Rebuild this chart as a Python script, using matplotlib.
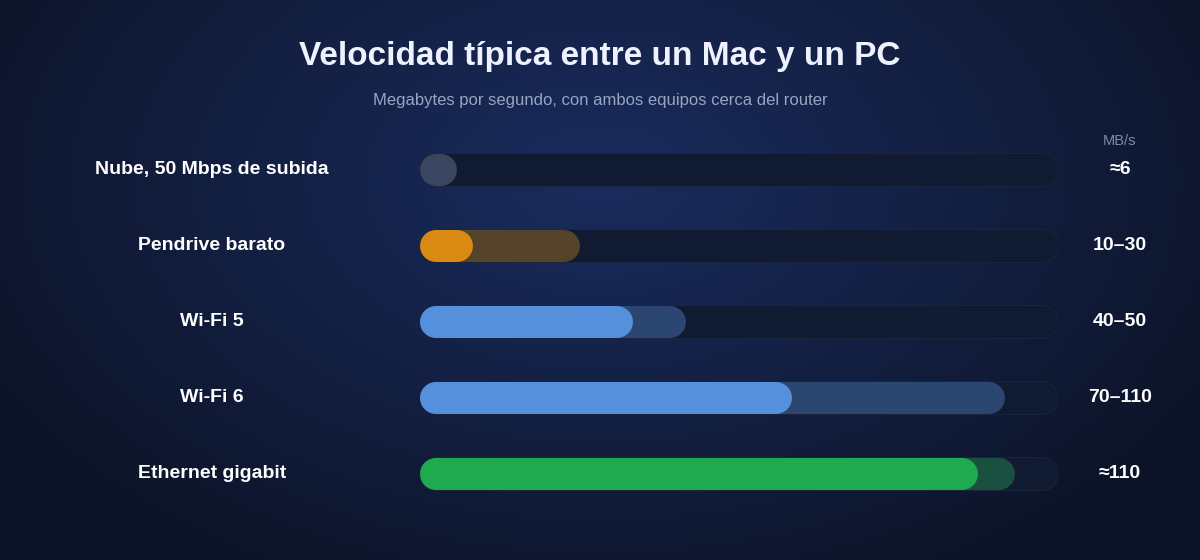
import numpy as np
import matplotlib
matplotlib.use("Agg")
import matplotlib.pyplot as plt

plt.rcParams["font.family"] = ["Liberation Sans", "DejaVu Sans"]

labels = ["Nube, 50 Mbps de subida", "Pendrive barato", "Wi-Fi 5", "Wi-Fi 6", "Ethernet gigabit"]
low = [4, 10, 40, 70, 105]
high = [7, 30, 50, 110, 112]
value_text = ["≈6", "10–30", "40–50", "70–110", "≈110"]
solid_colors = ["#66718b", "#d88a12", "#5590dc", "#5590dc", "#1faa50"]
range_colors = ["#3a4560", "#56442a", "#2c4672", "#2c4672", "#1a5040"]
XMAX = 120

W, H, DPI = 1200, 560, 100
fig = plt.figure(figsize=(W / DPI, H / DPI), dpi=DPI)

# background radial gradient
bg = fig.add_axes([0, 0, 1, 1])
yy, xx = np.mgrid[0:H, 0:W]
d = np.sqrt(((xx - 600) / 700) ** 2 + ((yy - 180) / 450) ** 2)
d = np.clip(d, 0, 1)[..., None]
c_in = np.array([0x1a, 0x2c, 0x5e]) / 255
c_out = np.array([0x0d, 0x14, 0x28]) / 255
bg.imshow(c_in * (1 - d) + c_out * d, aspect="auto")
bg.axis("off")

fig.text(0.5, 1 - 56 / H, "Velocidad típica entre un Mac y un PC", ha="center", va="center",
         color="#eef2ff", fontsize=24, fontweight="bold")
fig.text(0.5, 1 - 100 / H, "Megabytes por segundo, con ambos equipos cerca del router", ha="center",
         va="center", color="#98a4c2", fontsize=12)
fig.text(1120 / W, 1 - 141 / H, "MB/s", ha="center", va="center", color="#7e8aa6", fontsize=10.5)

ax = fig.add_axes([420 / W, 56 / H, 638 / W, 364 / H])
ax.set_xlim(0, XMAX)
off = 30 / 76
ax.set_ylim(4 + off, -off)
ax.axis("off")

px_per_unit = 638 / XMAX
r = 16 / px_per_unit
lw = 32 * 72 / DPI
for i, lab in enumerate(labels):
    ax.plot([r, XMAX - r], [i, i], color="#1c2640", lw=lw + 1.2, solid_capstyle="round")
    ax.plot([r, XMAX - r], [i, i], color="#101a30", lw=lw, solid_capstyle="round")
    ax.plot([r, max(r, high[i] - r)], [i, i], color=range_colors[i], lw=lw, solid_capstyle="round")
    ax.plot([r, max(r, low[i] - r)], [i, i], color=solid_colors[i], lw=lw, solid_capstyle="round")
    yf = 1 - (170 + 76 * i) / H
    fig.text(212 / W, yf, lab, ha="center", va="center", color="white", fontsize=14, fontweight="bold")
    fig.text(1120 / W, yf, value_text[i], ha="center", va="center", color="white", fontsize=14,
             fontweight="bold")

fig.savefig("out.png", dpi=DPI)
